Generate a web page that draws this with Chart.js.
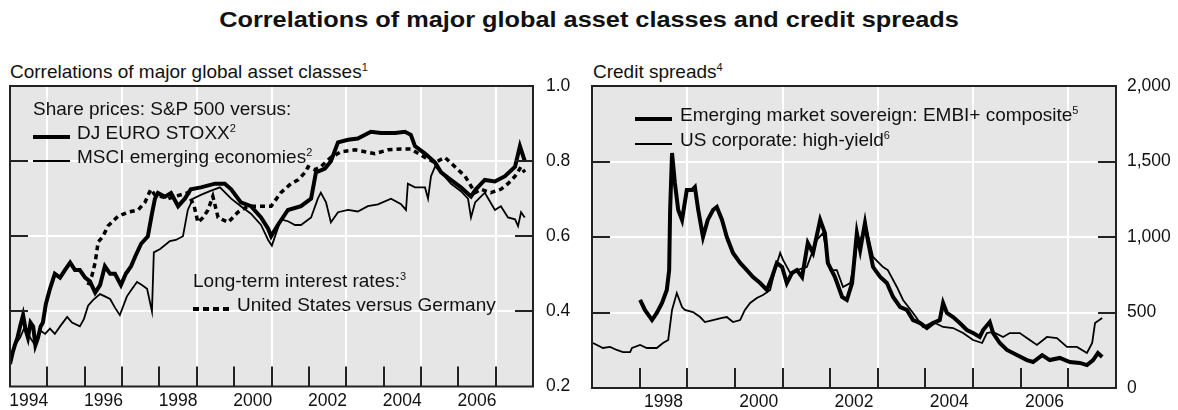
<!DOCTYPE html>
<html>
<head>
<meta charset="utf-8">
<script src="https://cdn.jsdelivr.net/npm/chart.js@4.4.0/dist/chart.umd.min.js"></script>
<style>
body { margin: 0; width: 1178px; height: 410px; overflow: hidden; background: #fff; color: #111; font-family: "Liberation Sans", Arial, sans-serif; position: relative; }
#title { position: absolute; top: 7px; left: 0; width: 1178px; text-align: center; font-weight: bold; font-size: 22px; transform: scaleX(1.15); }
.sub { position: absolute; top: 61px; font-size: 19px; white-space: nowrap; }
.txt { position: absolute; font-size: 19px; line-height: 20px; white-space: nowrap; }
.sw { position: absolute; width: 37px; background: #000; }
.dash { position: absolute; width: 37px; height: 4px; background: repeating-linear-gradient(to right, #000 0 6px, transparent 6px 10px); }
sup { font-size: 11px; vertical-align: 7px; line-height: 0; }
canvas { position: absolute; top: 60px; }
</style>
</head>
<body>
<div id="title">Correlations of major global asset classes and credit spreads</div>
<div class="sub" style="left:10px">Correlations of major global asset classes<sup>1</sup></div>
<div class="sub" style="left:593px">Credit spreads<sup>4</sup></div>

<canvas id="corrChart" width="590" height="350" style="left:0"></canvas>
<canvas id="spreadChart" width="598" height="350" style="left:580px"></canvas>

<!-- legend, left panel -->
<div class="txt" style="left:33px;top:99px">Share prices: S&amp;P 500 versus:</div>
<div class="sw" style="left:33px;top:135px;height:4px"></div>
<div class="txt" style="left:77px;top:123px">DJ EURO STOXX<sup>2</sup></div>
<div class="sw" style="left:33px;top:160px;height:2px"></div>
<div class="txt" style="left:77px;top:147px">MSCI emerging economies<sup>2</sup></div>
<div class="txt" style="left:193px;top:271px">Long-term interest rates:<sup>3</sup></div>
<div class="dash" style="left:193px;top:307px"></div>
<div class="txt" style="left:237px;top:295px">United States versus Germany</div>

<!-- legend, right panel -->
<div class="sw" style="left:635px;top:117px;height:4px"></div>
<div class="txt" style="left:680px;top:105px">Emerging market sovereign: EMBI+ composite<sup>5</sup></div>
<div class="sw" style="left:635px;top:143px;height:2px"></div>
<div class="txt" style="left:680px;top:130px">US corporate: high-yield<sup>6</sup></div>

<script>
/*** Data: dates as decimal years ***/
const euroT = [1994.00, 1994.07, 1994.13, 1994.20, 1994.27, 1994.35, 1994.42, 1994.48, 1994.55, 1994.62,
  1994.68, 1994.75, 1994.82, 1994.88, 1994.96, 1995.07,
  1995.20, 1995.34, 1995.47, 1995.61, 1995.74, 1995.87, 1996.01, 1996.14, 1996.28, 1996.41,
  1996.54, 1996.68, 1996.81, 1996.97, 1997.10, 1997.24, 1997.37, 1997.51, 1997.69, 1997.80,
  1997.88, 1997.96, 1998.15, 1998.31, 1998.50, 1998.68, 1998.84, 1999.11, 1999.49, 1999.75,
  1999.92, 2000.18, 2000.45, 2000.72, 2000.91, 2000.99, 2001.17, 2001.44, 2001.79, 2002.06,
  2002.19, 2002.43, 2002.59, 2002.78, 2003.05, 2003.31, 2003.66, 2003.93, 2004.31, 2004.57,
  2004.73, 2004.84, 2005.11, 2005.38, 2005.54, 2005.80, 2006.07, 2006.34, 2006.47, 2006.71,
  2006.98, 2007.25, 2007.52, 2007.65, 2007.78];
const euroV = [0.26, 0.29, 0.31, 0.33, 0.36, 0.39, 0.35, 0.33, 0.37, 0.36,
  0.31, 0.33, 0.36, 0.37, 0.42, 0.46,
  0.50, 0.49, 0.51, 0.53, 0.51, 0.51, 0.49, 0.48, 0.45, 0.47,
  0.52, 0.50, 0.50, 0.47, 0.50, 0.52, 0.55, 0.58, 0.60, 0.66,
  0.70, 0.715, 0.705, 0.715, 0.68, 0.70, 0.725, 0.73, 0.74, 0.74,
  0.725, 0.69, 0.68, 0.65, 0.62, 0.60, 0.63, 0.67, 0.68, 0.70,
  0.77, 0.78, 0.80, 0.85, 0.857, 0.86, 0.878, 0.875, 0.875, 0.878,
  0.87, 0.84, 0.82, 0.796, 0.77, 0.75, 0.73, 0.706, 0.725, 0.75,
  0.746, 0.76, 0.785, 0.84, 0.80];

const msciT = [1994.00, 1994.13, 1994.27, 1994.40, 1994.54, 1994.67, 1994.80, 1994.94, 1995.07, 1995.20,
  1995.34, 1995.53, 1995.66, 1995.87, 1995.98, 1996.09, 1996.22, 1996.41, 1996.54, 1996.68,
  1996.81, 1996.94, 1997.13, 1997.27, 1997.40, 1997.53, 1997.67, 1997.80, 1997.85, 1998.02,
  1998.28, 1998.44, 1998.63, 1998.76, 1998.90, 1999.11, 1999.35, 1999.62, 1999.92, 2000.18,
  2000.45, 2000.72, 2000.91, 2001.01, 2001.25, 2001.44, 2001.63, 2001.79, 2002.06, 2002.24,
  2002.32, 2002.46, 2002.59, 2002.78, 2003.05, 2003.31, 2003.58, 2003.85, 2004.20, 2004.47,
  2004.60, 2004.65, 2004.84, 2005.11, 2005.19, 2005.27, 2005.38, 2005.54, 2005.80, 2006.07,
  2006.26, 2006.34, 2006.45, 2006.71, 2006.98, 2007.14, 2007.33, 2007.52, 2007.60, 2007.68,
  2007.78];
const msciV = [0.28, 0.31, 0.33, 0.36, 0.33, 0.31, 0.35, 0.34, 0.354, 0.34,
  0.36, 0.385, 0.37, 0.36, 0.38, 0.415, 0.43, 0.446, 0.44, 0.433,
  0.41, 0.39, 0.44, 0.46, 0.478, 0.47, 0.46, 0.40, 0.557, 0.566,
  0.587, 0.59, 0.60, 0.67, 0.70, 0.71, 0.72, 0.73, 0.70, 0.68,
  0.66, 0.63, 0.59, 0.575, 0.645, 0.64, 0.63, 0.63, 0.65, 0.70,
  0.716, 0.69, 0.637, 0.664, 0.67, 0.666, 0.68, 0.685, 0.70, 0.685,
  0.67, 0.74, 0.73, 0.73, 0.70, 0.76, 0.786, 0.77, 0.74, 0.72,
  0.70, 0.65, 0.69, 0.716, 0.67, 0.68, 0.65, 0.645, 0.627, 0.664,
  0.65];

const usdeT = [1996.09, 1996.19, 1996.28, 1996.36, 1996.49, 1996.62, 1996.89, 1997.16, 1997.43, 1997.61,
  1997.77, 1997.88, 1998.04, 1998.23, 1998.42, 1998.76, 1998.93, 1999.03, 1999.17, 1999.30,
  1999.43, 1999.57, 1999.84, 2000.10, 2000.37, 2000.72, 2000.99, 2001.25, 2001.52, 2001.71,
  2001.90, 2001.98, 2002.16, 2002.32, 2002.59, 2002.86, 2003.23, 2003.50, 2003.77, 2004.12,
  2004.47, 2004.73, 2005.11, 2005.38, 2005.64, 2005.91, 2006.18, 2006.45, 2006.61, 2006.87,
  2007.14, 2007.33, 2007.52, 2007.68, 2007.78];
const usdeV = [0.47, 0.494, 0.53, 0.585, 0.60, 0.627, 0.653, 0.664, 0.67, 0.69,
  0.725, 0.71, 0.706, 0.70, 0.706, 0.716, 0.68, 0.637, 0.65, 0.67,
  0.706, 0.65, 0.637, 0.664, 0.68, 0.68, 0.68, 0.716, 0.74, 0.75,
  0.77, 0.785, 0.777, 0.785, 0.81, 0.825, 0.83, 0.825, 0.82, 0.83,
  0.832, 0.832, 0.81, 0.796, 0.81, 0.785, 0.76, 0.716, 0.725, 0.716,
  0.725, 0.74, 0.76, 0.785, 0.77];

const embiT = [1998.01, 1998.11, 1998.26, 1998.36, 1998.47, 1998.57, 1998.62, 1998.64, 1998.68, 1998.74,
  1998.81, 1998.89, 1998.99, 1999.10, 1999.16, 1999.23, 1999.33, 1999.43, 1999.54, 1999.62,
  1999.73, 1999.83, 1999.96, 2000.11, 2000.25, 2000.38, 2000.53, 2000.67, 2000.78, 2000.88,
  2000.99, 2001.09, 2001.20, 2001.30, 2001.41, 2001.53, 2001.64, 2001.79, 2001.89, 2001.95,
  2002.10, 2002.25, 2002.35, 2002.46, 2002.52, 2002.56, 2002.63, 2002.73, 2002.79, 2002.90,
  2003.05, 2003.19, 2003.32, 2003.47, 2003.61, 2003.74, 2003.89, 2004.03, 2004.16, 2004.30,
  2004.37, 2004.45, 2004.58, 2004.72, 2004.87, 2005.00, 2005.14, 2005.21, 2005.35, 2005.42,
  2005.56, 2005.71, 2005.92, 2006.13, 2006.26, 2006.45, 2006.61, 2006.82, 2007.03, 2007.24,
  2007.39, 2007.52, 2007.62, 2007.71];
const embiV = [583, 517, 450, 497, 563, 649, 781, 1179, 1556, 1358,
  1179, 1113, 1311, 1311, 1331, 1179, 1000, 1113, 1179, 1199,
  1113, 1000, 894, 828, 781, 735, 695, 649, 735, 828,
  801, 695, 762, 781, 735, 960, 894, 1113, 1026, 828,
  735, 603, 583, 695, 894, 1026, 914, 1093, 980, 801,
  735, 695, 603, 536, 517, 450, 430, 397, 430, 450,
  563, 497, 470, 430, 384, 364, 338, 384, 437, 364,
  298, 252, 218, 185, 172, 218, 185, 199, 172, 166,
  152, 185, 232, 205];

const hyT = [1997.02, 1997.23, 1997.38, 1997.52, 1997.65, 1997.80, 1997.84, 1998.01, 1998.15, 1998.36,
  1998.49, 1998.60, 1998.68, 1998.78, 1998.89, 1998.95, 1999.12, 1999.27, 1999.37, 1999.54,
  1999.73, 1999.83, 1999.96, 2000.11, 2000.21, 2000.32, 2000.46, 2000.59, 2000.74, 2000.84,
  2000.95, 2001.01, 2001.16, 2001.30, 2001.51, 2001.72, 2001.85, 2002.00, 2002.14, 2002.27,
  2002.42, 2002.52, 2002.56, 2002.77, 2002.90, 2003.11, 2003.21, 2003.40, 2003.53, 2003.74,
  2003.95, 2004.16, 2004.37, 2004.58, 2004.79, 2005.00, 2005.19, 2005.29, 2005.42, 2005.63,
  2005.77, 2005.98, 2006.19, 2006.34, 2006.55, 2006.76, 2006.97, 2007.18, 2007.39, 2007.50,
  2007.56, 2007.71];
const hyV = [298, 265, 272, 252, 238, 238, 265, 285, 265, 265,
  298, 318, 517, 629, 536, 517, 503, 470, 437, 450,
  464, 470, 437, 450, 517, 563, 596, 616, 649, 781,
  894, 848, 762, 781, 801, 980, 1026, 781, 781, 669,
  695, 848, 960, 1046, 868, 801, 781, 669, 583, 497,
  404, 437, 404, 397, 364, 318, 298, 364, 371, 338,
  364, 364, 318, 285, 338, 331, 272, 272, 232, 298,
  430, 464];

/*** Helpers ***/
function points(t, v) {
    return t.map(function (d, i) { return {x: d, y: v[i]}; });
}

const frame = {
    id: 'frame',
    beforeDraw: function (chart) {
        const a = chart.chartArea, c = chart.ctx;
        c.save();
        c.fillStyle = '#e6e6e6';
        c.fillRect(a.left, a.top, a.width, a.height);
        c.restore();
    },
    afterDatasetsDraw: function (chart) {
        const a = chart.chartArea, c = chart.ctx, xs = chart.scales.x, ys = chart.scales.y;
        c.save();
        c.strokeStyle = '#222';
        c.lineWidth = 2;
        c.beginPath();
        for (let yr = Math.ceil(xs.min) + 1; yr < xs.max; yr++) {
            const px = Math.round(xs.getPixelForValue(yr));
            c.moveTo(px, a.bottom);
            c.lineTo(px, a.bottom - 20);
        }
        ys.ticks.forEach(function (t) {
            if (t.value <= ys.min + 1e-9 || t.value >= ys.max - 1e-9) return;
            const py = Math.round(ys.getPixelForValue(t.value));
            c.moveTo(a.left, py); c.lineTo(a.left + 18, py);
            c.moveTo(a.right, py); c.lineTo(a.right - 18, py);
        });
        c.stroke();
        c.strokeRect(a.left, a.top, a.width, a.height);
        c.restore();
    }
};

const tickFont = {family: '"Liberation Sans", Arial, sans-serif', size: 17.5};

function drawPanel(id, datasets, xMin, xMax, yMin, yMax, yStep, yFmt, padLeft, yWidth, yPad) {
    return new Chart(document.getElementById(id), {
        type: 'line',
        data: {datasets: datasets},
        plugins: [frame],
        options: {
            responsive: false,
            animation: false,
            devicePixelRatio: 1,
            layout: {padding: {left: padLeft, top: 26, right: 0, bottom: 0}},
            plugins: {legend: {display: false}, tooltip: {enabled: false}},
            elements: {point: {radius: 0}, line: {tension: 0}},
            scales: {
                x: {
                    type: 'linear',
                    min: xMin,
                    max: xMax,
                    afterBuildTicks: function (scale) {
                        const ticks = [];
                        for (let yr = xMin; yr < xMax; yr++) {
                            if (yr % 2 === 0) ticks.push({value: yr + 0.5});
                            else if (yr > xMin) ticks.push({value: yr});
                        }
                        scale.ticks = ticks;
                    },
                    afterFit: function (scale) { scale.height = 22; },
                    grid: {
                        drawTicks: false,
                        lineWidth: 2,
                        color: function (ctx) {
                            return ctx.tick && Number.isInteger(ctx.tick.value) ? '#ffffff' : 'rgba(0,0,0,0)';
                        }
                    },
                    border: {display: false},
                    ticks: {
                        autoSkip: false,
                        maxRotation: 0,
                        padding: 4,
                        color: '#111',
                        font: tickFont,
                        callback: function (value) {
                            return Number.isInteger(value) ? '' : String(Math.floor(value));
                        }
                    }
                },
                y: {
                    position: 'right',
                    min: yMin,
                    max: yMax,
                    afterFit: function (scale) { scale.width = yWidth; },
                    grid: {
                        drawTicks: false,
                        lineWidth: 2,
                        color: function (ctx) {
                            const v = ctx.tick ? ctx.tick.value : yMin;
                            return (Math.abs(v - yMin) < 1e-6 || Math.abs(v - yMax) < 1e-6) ? 'rgba(0,0,0,0)' : '#ffffff';
                        }
                    },
                    border: {display: false},
                    ticks: {
                        stepSize: yStep,
                        padding: yPad,
                        color: '#111',
                        font: tickFont,
                        callback: yFmt
                    }
                }
            }
        }
    });
}

/*** Left panel: correlations ***/
drawPanel('corrChart', [
    {label: 'United States versus Germany', data: points(usdeT, usdeV), borderColor: '#000', borderWidth: 3.5, borderDash: [5, 4]},
    {label: 'MSCI emerging economies', data: points(msciT, msciV), borderColor: '#000', borderWidth: 1.8},
    {label: 'DJ EURO STOXX', data: points(euroT, euroV), borderColor: '#000', borderWidth: 4}
], 1994, 2008, 0.2, 1.0, 0.2, function (v) { return v.toFixed(1); }, 10, 57, 13);

/*** Right panel: credit spreads ***/
drawPanel('spreadChart', [
    {label: 'US corporate: high-yield', data: points(hyT, hyV), borderColor: '#000', borderWidth: 1.8},
    {label: 'Emerging market sovereign: EMBI+ composite', data: points(embiT, embiV), borderColor: '#000', borderWidth: 4}
], 1997, 2008, 0, 2000, 500, function (v) { return v.toLocaleString('en-US'); }, 12, 62, 11);
</script>
</body>
</html>
